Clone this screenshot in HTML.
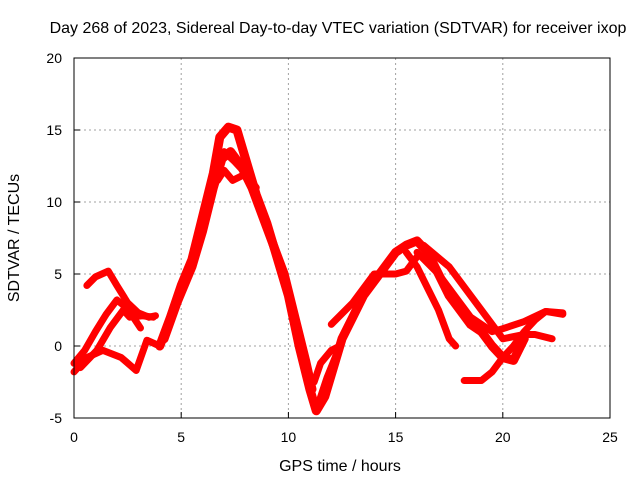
<!DOCTYPE html>
<html><head><meta charset="utf-8"><style>
body{margin:0;background:#fff}
svg text{font-family:"Liberation Sans",Arial,sans-serif;font-size:14px;fill:#000}
svg text.big{font-size:16px}
</style></head><body>
<svg id="chart" width="640" height="480">
<text class="big" x="338" y="33" text-anchor="middle">Day 268 of 2023, Sidereal Day-to-day VTEC variation (SDTVAR) for receiver ixop</text>
<g id="grid"></g><g id="series"></g><g id="axes"></g>
<text class="big" x="340" y="471" text-anchor="middle">GPS time / hours</text>
<text class="big" transform="translate(19,238) rotate(-90)" text-anchor="middle">SDTVAR / TECUs</text>
</svg>
<script>
const xTicks=[0,5,10,15,20,25];
const yTicks=[-5,0,5,10,15,20];
const trackMain=[[4,0],[4.5,2],[5,4.2],[5.5,6],[6,9],[6.5,12],[6.8,14.5],[7.2,15.2],[7.6,15],[8,13],[8.5,10.5],[9,8.5],[9.5,6],[10,3.5],[10.5,0],[11,-3],[11.3,-4.5],[11.7,-3.5],[12,-2],[12.5,0.5],[13,2],[13.5,3.5],[14,4.5],[14.5,5.5],[15,6.5],[15.5,7],[16,7.3],[16.5,6.5],[17,5],[17.5,3.5],[18,2.5],[18.5,1.5],[19,1],[19.5,0],[20,-0.8],[20.5,-1],[21,0.5]];
const trackMain2=[[4.2,0.5],[4.8,3],[5.5,5.5],[6,8],[6.5,11],[6.9,13],[7.3,13.5],[7.8,12.5],[8.3,11],[8.8,9],[9.3,7],[9.8,5],[10.3,2],[10.8,-1],[11.1,-3]];
const trackA=[[0.6,4.2],[1.0,4.8],[1.6,5.2],[2.0,4.2],[2.5,3.0],[3.0,2.3],[3.5,2.0],[3.8,2.1]];
const trackB=[[0,-1.2],[0.5,-0.3],[1,1],[1.5,2.2],[2,3.2],[2.5,2.6],[3.1,1.25]];
const trackC=[[0.3,-1.5],[1.07,-0.3],[1.7,1.3],[2.3,2.5],[2.6,2],[3.2,2.1],[3.7,2]];
const trackD=[[0,-1.8],[0.6,-0.8],[1.35,-0.3],[2.2,-0.8],[2.9,-1.7],[3.4,0.4],[4,0]];
const trackPeak2=[[6.6,12.5],[7,13.5],[7.5,12.8],[8,12],[8.5,11]];
const trackPeak3=[[6.7,11.5],[7,12.2],[7.4,11.5],[7.8,11.8]];
const trackLow2=[[11.2,-2.5],[11.5,-1.2],[12,-0.3],[12.4,0],[11.8,-2.2],[11.4,-4]];
const trackRise2=[[12,1.5],[13,3],[14,5],[15,5],[15.5,5.2],[16,6.2]];
const trackR1=[[15.5,6.5],[16,5.5],[16.5,4],[17,2.5],[17.5,0.5],[17.8,0]];
const trackR2=[[16,6.5],[17,5],[18,3],[18.5,2],[19,1.5],[19.5,1],[20,1.2],[21,1.7],[22,2.4],[22.8,2.2]];
const trackR3=[[16.3,7],[17.5,5.5],[18.5,3.5],[19.5,1.5],[20,0.5],[21,0.8],[21.5,0.8],[22.3,0.5]];
const trackR4=[[18.2,-2.4],[19,-2.4],[19.5,-1.8],[20,-0.8],[20.5,0],[21,1],[21.5,1.8],[22,2.4],[22.8,2.3]];
const tracks=[trackMain,trackMain2,trackA,trackB,trackC,trackD,trackPeak2,trackPeak3,trackLow2,trackRise2,trackR1,trackR2,trackR3,trackR4];
const X0=74,X1=610,Y0=418,Y1=58;
const sx=v=>X0+(v-0)/25*(X1-X0);
const sy=v=>Y0-(v+5)/25*(Y0-Y1);
const NS="http://www.w3.org/2000/svg";
const g=document.getElementById('grid'),s=document.getElementById('series'),a=document.getElementById('axes');
function mk(tag,at,p){const e=document.createElementNS(NS,tag);for(const k in at)e.setAttribute(k,at[k]);p.appendChild(e);return e;}
xTicks.forEach(t=>{
 if(t>0&&t<25){const l=mk('line',{x1:sx(t),x2:sx(t),y1:Y1,y2:Y0,stroke:'#a0a0a0','stroke-dasharray':'2,3'},g);
 
 }
 const tk=mk('line',{x1:sx(t),x2:sx(t),y1:Y0,y2:Y0-6,stroke:'#000'},a);
 
 
 const tx=mk('text',{x:sx(t),y:Y0+24,'text-anchor':'middle'},a);tx.textContent=t;
 
 
});
yTicks.forEach(t=>{
 if(t>-5&&t<20){const l=mk('line',{x1:X0,x2:X1,y1:sy(t),y2:sy(t),stroke:'#a0a0a0','stroke-dasharray':'2,3'},g);
 
 }
 const tk=mk('line',{x1:X0,x2:X0+6,y1:sy(t),y2:sy(t),stroke:'#000'},a);
 
 
 const tx=mk('text',{x:X0-12,y:sy(t)+5,'text-anchor':'end'},a);tx.textContent=t;
 
 
});
const fr=mk('rect',{x:X0,y:Y1,width:X1-X0,height:Y0-Y1,fill:'none',stroke:'#000'},a);


tracks.forEach((tr,i)=>{
 const p=mk('polyline',{points:tr.map(d=>sx(d[0])+','+sy(d[1])).join(' '),fill:'none',stroke:'#ff0000','stroke-width':i<2?9:7,'stroke-linejoin':'round','stroke-linecap':'round'},s);
 
 
});
</script>
</body></html>
